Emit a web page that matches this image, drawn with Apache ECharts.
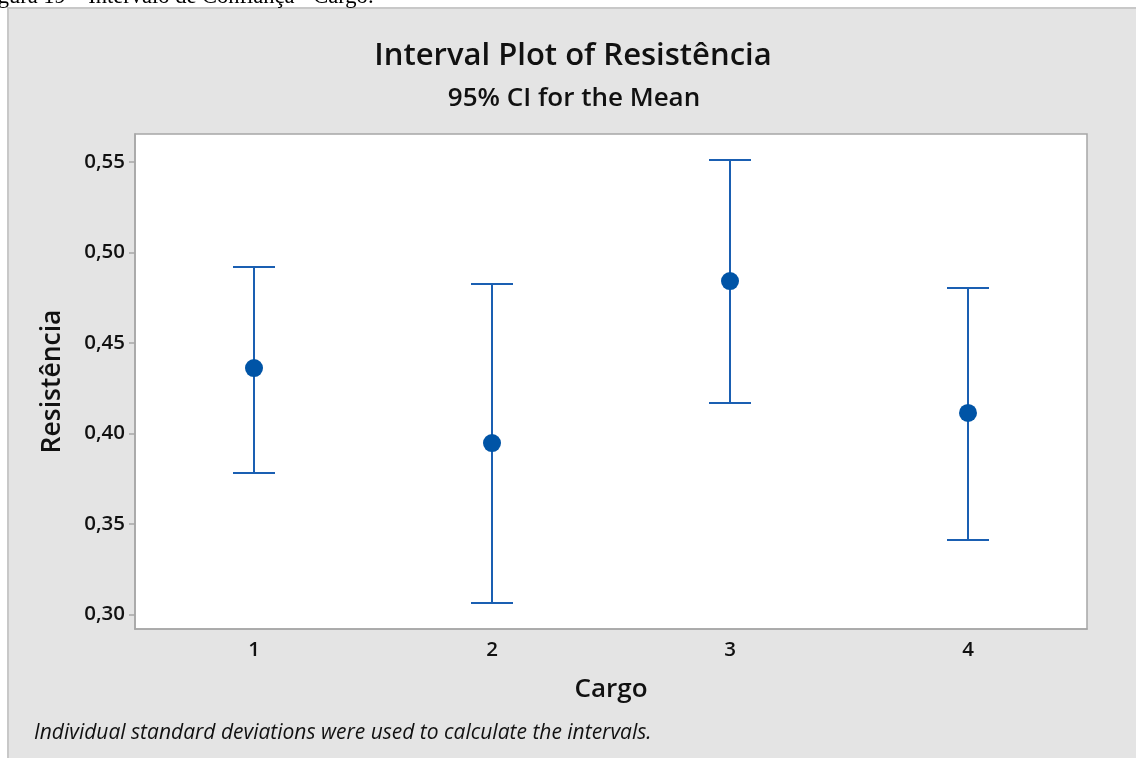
<!DOCTYPE html>
<html>
<head>
<meta charset="utf-8">
<script src="https://cdn.jsdelivr.net/npm/echarts@6/dist/echarts.min.js"></script>
<style>
  html, body { margin: 0; padding: 0; background: #ffffff; }
  #chart { width: 1136px; height: 758px; }
</style>
</head>
<body>
<div id="chart"></div>
<script>
// Interval plot: 95% CI for the mean of Resistência by Cargo
const categories = ['1', '2', '3', '4'];
const means  = [0.4361, 0.3947, 0.4842, 0.4113];
const lowers = [0.3781, 0.3063, 0.4168, 0.3411];
const uppers = [0.4920, 0.4826, 0.5511, 0.4804];
const yTicks = [0.30, 0.35, 0.40, 0.45, 0.50, 0.55];

const FONT = '"Open Sans", "Noto Sans", sans-serif';
const BLUE_LINE = '#1a5fb2';
const BLUE_DOT = '#0054a6';
const AXIS_GRAY = '#a6a6a6';

const chart = echarts.init(document.getElementById('chart'), null, { renderer: 'canvas' });

const barData = categories.map((c, i) => [i, lowers[i], uppers[i]]);
const meanData = categories.map((c, i) => [i, means[i]]);

const option = {
  animation: false,
  backgroundColor: '#ffffff',
  graphic: [
    {
      type: 'rect', z: -10, silent: true,
      shape: { x: 8, y: 8, width: 1140, height: 760 },
      style: { fill: '#e4e4e4', stroke: '#c8c8c8', lineWidth: 2 }
    },
    {
      type: 'text', silent: true, z: 10,
      style: {
        x: -21, y: 9, text: 'Figura 19 – Intervalo de Confiança - Cargo:',
        font: '22.5px "Liberation Serif", "DejaVu Serif", serif',
        fill: '#000000', verticalAlign: 'bottom'
      }
    },
    {
      type: 'text', silent: true,
      style: {
        x: 34, y: 733, text: 'Individual standard deviations were used to calculate the intervals.',
        font: 'italic 21px ' + FONT, fill: '#111111', verticalAlign: 'middle'
      }
    }
  ],
  title: [
    {
      text: 'Interval Plot of Resistência', left: 568, top: 36, textAlign: 'center',
      textStyle: { fontFamily: FONT, fontWeight: 600, fontSize: 31, color: '#111111' }
    },
    {
      text: '95% CI for the Mean', left: 569, top: 81, textAlign: 'center',
      textStyle: { fontFamily: FONT, fontWeight: 600, fontSize: 26, color: '#111111' }
    }
  ],
  grid: {
    left: 135, top: 134, width: 952, height: 495,
    show: true, backgroundColor: '#ffffff', borderColor: AXIS_GRAY, borderWidth: 1.5
  },
  xAxis: {
    type: 'category',
    data: categories,
    boundaryGap: true,
    name: 'Cargo',
    nameLocation: 'middle',
    nameGap: 48,
    nameTextStyle: { fontFamily: FONT, fontWeight: 600, fontSize: 26, color: '#111111' },
    axisLine: { lineStyle: { color: AXIS_GRAY, width: 1.5 } },
    axisTick: { alignWithLabel: true, length: 6, lineStyle: { color: AXIS_GRAY, width: 1.5 } },
    axisLabel: { fontFamily: FONT, fontWeight: 600, fontSize: 20.5, color: '#111111', margin: 11 },
    splitLine: { show: false }
  },
  yAxis: {
    type: 'value',
    min: 0.2919,
    max: 0.5655,
    name: 'Resistência',
    nameLocation: 'middle',
    nameGap: 69,
    nameTextStyle: { fontFamily: FONT, fontWeight: 600, fontSize: 26.5, color: '#111111' },
    axisLine: { show: true, lineStyle: { color: AXIS_GRAY, width: 1.5 } },
    axisTick: { show: true, length: 6, customValues: yTicks, lineStyle: { color: AXIS_GRAY, width: 1.5 } },
    axisLabel: {
      fontFamily: FONT, fontWeight: 600, fontSize: 20.5, color: '#111111', margin: 10,
      customValues: yTicks,
      formatter: v => v.toFixed(2).replace('.', ',')
    },
    splitLine: { show: false }
  },
  series: [
    {
      type: 'custom',
      data: barData,
      encode: { x: 0, y: [1, 2] },
      renderItem: function (params, api) {
        const idx = api.value(0);
        const lo = api.coord([idx, api.value(1)]);
        const hi = api.coord([idx, api.value(2)]);
        const half = 21;
        const style = { stroke: BLUE_LINE, lineWidth: 2 };
        return {
          type: 'group',
          children: [
            { type: 'line', shape: { x1: lo[0], y1: lo[1], x2: hi[0], y2: hi[1] }, style },
            { type: 'line', shape: { x1: hi[0] - half, y1: hi[1], x2: hi[0] + half, y2: hi[1] }, style },
            { type: 'line', shape: { x1: lo[0] - half, y1: lo[1], x2: lo[0] + half, y2: lo[1] }, style }
          ]
        };
      },
      z: 2
    },
    {
      type: 'scatter',
      data: meanData,
      symbol: 'circle',
      symbolSize: 18,
      itemStyle: { color: BLUE_DOT, opacity: 1 },
      z: 3
    }
  ]
};

chart.setOption(option);
</script>
</body>
</html>
